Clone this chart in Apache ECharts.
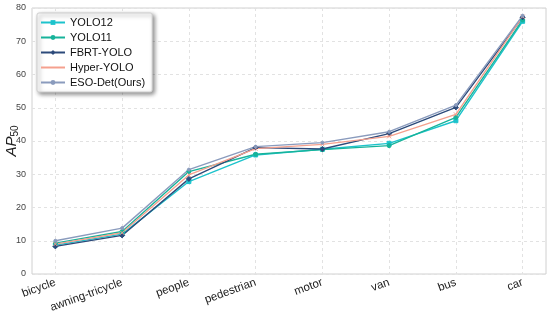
<!DOCTYPE html>
<html><head><meta charset="utf-8">
<script src="https://cdn.jsdelivr.net/npm/echarts@6/dist/echarts.min.js"></script>
<style>html,body{margin:0;padding:0;background:#fff}#c{width:550px;height:326px}</style>
</head><body><div id="c"></div>
<script>
const categories = ['bicycle','awning-tricycle','people','pedestrian','motor','van','bus','car'];
const yolo12 = [8.7, 12.0, 27.8, 35.8, 37.5, 39.3, 46.1, 76.0];
const yolo11 = [9.3, 12.8, 30.8, 36.0, 37.4, 38.6, 47.1, 76.4];
const fbrt   = [8.3, 11.6, 28.6, 38.0, 37.6, 42.2, 50.1, 77.2];
const hyper  = [9.0, 12.4, 29.8, 37.7, 39.0, 41.4, 48.0, 77.4];
const eso    = [10.0, 13.8, 31.4, 38.3, 39.5, 42.8, 50.8, 77.7];
const yTicks = [0,10,20,30,40,50,60,70,80];

const seriesDefs = [
  {name:'YOLO12', data:yolo12, color:'#1cc3cc', symbol:'rect', size:4},
  {name:'YOLO11', data:yolo11, color:'#17b39a', symbol:'circle', size:4},
  {name:'FBRT-YOLO', data:fbrt, color:'#2c4a7a', symbol:'diamond', size:5},
  {name:'Hyper-YOLO', data:hyper, color:'#f5a08e', symbol:'path://M0,0L10,10M10,0L0,10', size:4},
  {name:'ESO-Det(Ours)', data:eso, color:'#8a9bbd', symbol:'circle', size:3}
];

const chart = echarts.init(document.getElementById('c'));
chart.setOption({
  backgroundColor:'#fff',
  animation:false,
  grid:{left:32, right:4, top:8, bottom:52, containLabel:false, outerBoundsMode:'none',
        show:true, borderColor:'#d0d0d0', borderWidth:1},
  legend:{
    left:37, top:13, orient:'vertical',
    itemWidth:24, itemHeight:6, itemGap:2,
    padding:[3,7,3,3],
    backgroundColor:'#fff', borderColor:'#cfcfcf', borderWidth:1, borderRadius:2,
    shadowBlur:4, shadowColor:'rgba(0,0,0,0.45)', shadowOffsetX:2, shadowOffsetY:2,
    textStyle:{fontFamily:'Liberation Sans, Arial', fontSize:11, color:'#111', lineHeight:13},
    data: seriesDefs.map(s=>s.name)
  },
  xAxis:{
    type:'value', min:-0.35, max:7.35,
    axisLine:{show:false}, axisTick:{show:false, customValues:[0,1,2,3,4,5,6,7]},
    splitLine:{show:true, lineStyle:{color:'#e2e2e2', type:[3,3], width:1}},
    axisLabel:{customValues:[0,1,2,3,4,5,6,7], rotate:20, margin:8,
      fontFamily:'Liberation Sans, Arial', fontSize:11.5, color:'#222',
      formatter:v=>categories[Math.round(v)]}
  },
  yAxis:{
    type:'value', min:yTicks[0], max:yTicks[yTicks.length-1], interval:10,
    axisLine:{show:false}, axisTick:{show:false},
    splitLine:{show:true, lineStyle:{color:'#e2e2e2', type:[3,3], width:1}},
    axisLabel:{fontFamily:'Liberation Sans, Arial', fontSize:9, color:'#444', margin:6},
    name:'{a|AP}{b|50}', nameLocation:'middle', nameGap:12, nameRotate:90, nameMoveOverlap:false,
    nameTextStyle:{rich:{
      a:{fontFamily:'Liberation Sans, Arial', fontStyle:'italic', fontSize:15, color:'#222'},
      b:{fontFamily:'Liberation Sans, Arial', fontSize:10, color:'#222', padding:[6,0,0,0]}
    }}
  },
  series: seriesDefs.map(s=>({
    name:s.name, type:'line',
    data:s.data.map((v,i)=>[i,v]),
    symbol:s.symbol, symbolSize:s.size, showSymbol:true,
    lineStyle:{color:s.color, width:1.4},
    itemStyle:{color:s.color, borderColor:s.color},
    z: 2
  }))
});
</script></body></html>
